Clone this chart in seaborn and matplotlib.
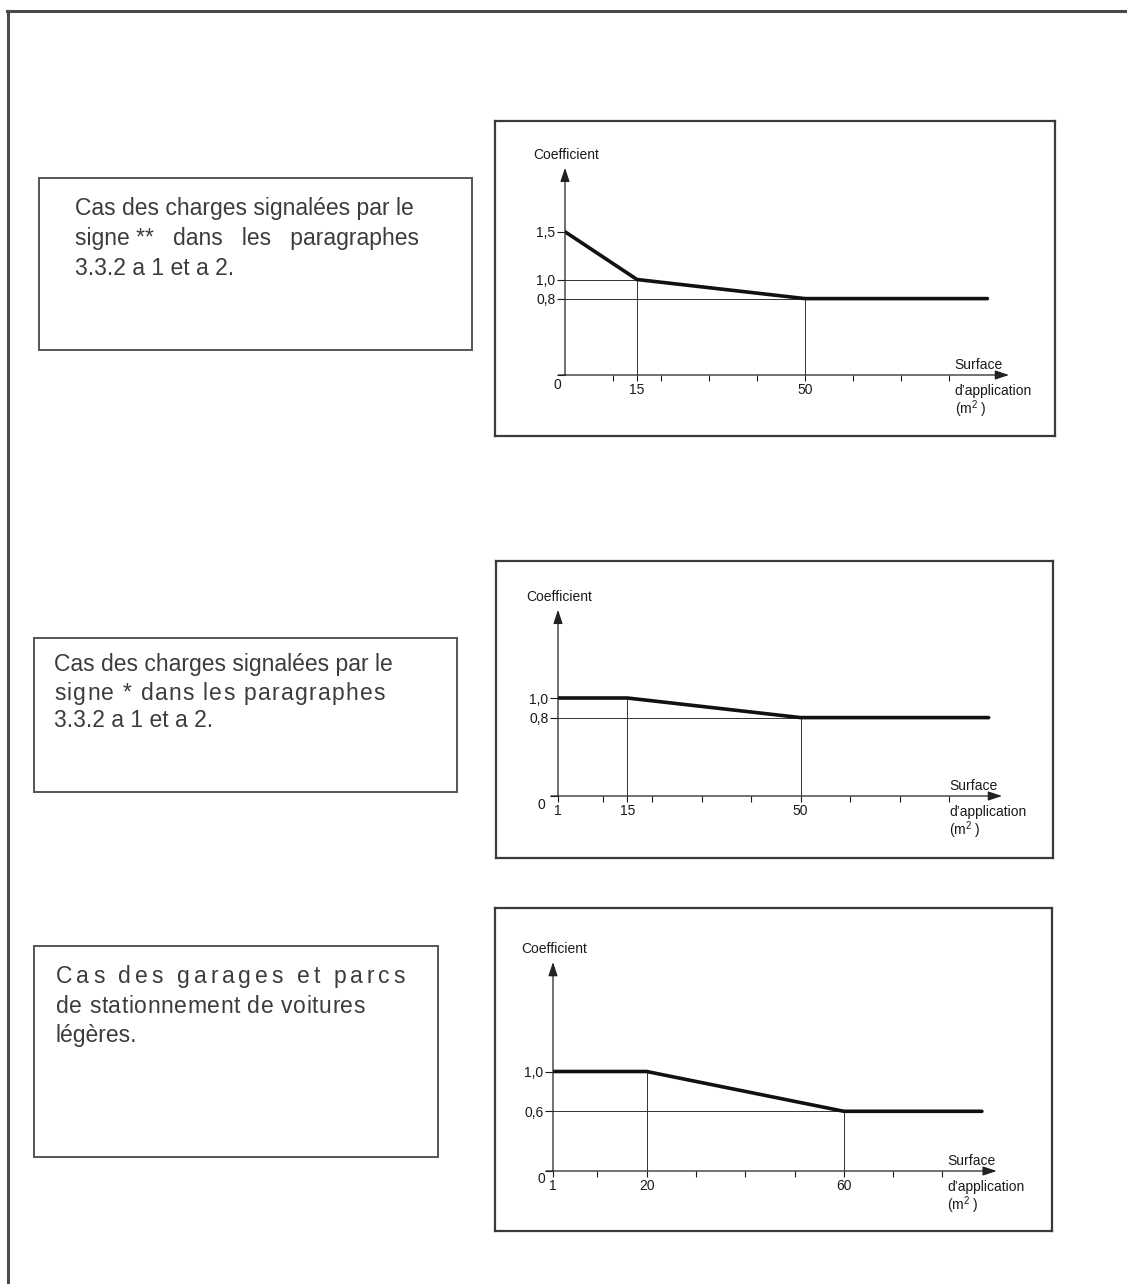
import numpy as np
import pandas as pd
import seaborn as sns
import matplotlib
matplotlib.use("Agg")
import matplotlib.pyplot as plt
from matplotlib import font_manager, ft2font
from matplotlib.lines import Line2D

# ---------------- DATA ----------------
# Chart 1 : charges signalées par **
chart1_surface = [0, 15, 50, 88]
chart1_coef = [1.5, 1.0, 0.8, 0.8]
chart1_xlabel_pos = [15, 50]
chart1_xlabels = ["15", "50"]
chart1_ylabel_pos = [1.5, 1.0, 0.8]
chart1_ylabels = ["1,5", "1,0", "0,8"]

# Chart 2 : charges signalées par *
chart2_surface = [1, 15, 50, 88]
chart2_coef = [1.0, 1.0, 0.8, 0.8]
chart2_xlabel_pos = [1, 15, 50]
chart2_xlabels = ["1", "15", "50"]
chart2_ylabel_pos = [1.0, 0.8]
chart2_ylabels = ["1,0", "0,8"]

# Chart 3 : garages et parcs de stationnement
chart3_surface = [1, 20, 60, 88]
chart3_coef = [1.0, 1.0, 0.6, 0.6]
chart3_xlabel_pos = [1, 20, 60]
chart3_xlabels = ["1", "20", "60"]
chart3_ylabel_pos = [1.0, 0.6]
chart3_ylabels = ["1,0", "0,6"]

minor_xticks = [10, 20, 30, 40, 50, 60, 70, 80]
origin_label = "0"
y_axis_title = "Coefficient"
x_axis_title = "Surface"
x_axis_title2 = "d\u2019application\n(m$^{2}$ )"

box1_lines = ["Cas des charges signalées par le",
              "signe **   dans   les   paragraphes",
              "3.3.2 a 1 et a 2."]
box2_lines = ["Cas des charges signalées par le",
              "signe * dans les paragraphes",
              "3.3.2 a 1 et a 2."]
box3_lines = ["Cas des garages et parcs",
              "de stationnement de voitures",
              "légères."]

# ---------------- LAYOUT (pixels) ----------------
W, H = 1127, 1284
sns.set_theme(style="white")
plt.rcParams["font.family"] = ["Liberation Sans", "DejaVu Sans"]
plt.rcParams["mathtext.fontset"] = "custom"
plt.rcParams["mathtext.rm"] = "Liberation Sans"

fig = plt.figure(figsize=(W / 100, H / 100), dpi=100)
fig.patch.set_facecolor("white")


def fx(x):
    return x / W


def fy(y):
    return 1 - y / H


def hline(x0, x1, y, lw, color):
    fig.add_artist(Line2D([fx(x0), fx(x1)], [fy(y), fy(y)], lw=lw, color=color,
                          transform=fig.transFigure, solid_capstyle="projecting"))


def vline(x, y0, y1, lw, color):
    fig.add_artist(Line2D([fx(x), fx(x)], [fy(y0), fy(y1)], lw=lw, color=color,
                          transform=fig.transFigure, solid_capstyle="projecting"))


def box(x0, y0, x1, y1, lw, color):
    hline(x0, x1, y0, lw, color)
    hline(x0, x1, y1, lw, color)
    vline(x0, y0, y1, lw, color)
    vline(x1, y0, y1, lw, color)


# page frame (left + top only)
hline(7, W + 5, 11, 2.2, "#4a4a4a")
vline(7.5, 11, H + 5, 2.2, "#4a4a4a")

# chart frames
box(495, 121, 1055, 436, 1.6, "#3a3a3a")
box(496, 561, 1053, 858, 1.6, "#3a3a3a")
box(495, 908, 1052, 1231, 1.6, "#3a3a3a")

# text frames
box(39, 178, 472, 350, 1.4, "#555555")
box(34, 638, 457, 792, 1.4, "#555555")
box(34, 946, 438, 1157, 1.4, "#555555")

# ---------- text boxes ----------
TXT_SIZE = 16.5
TXT_COLOR = "#3c3c3c"
font_path = font_manager.findfont(font_manager.FontProperties(family="Liberation Sans"))


def advances(s, size):
    try:
        f = ft2font.FT2Font(font_path)
        f.set_size(size, 100)
        out = []
        for c in s:
            g = f.load_char(ord(c))
            out.append(g.linearHoriAdvance / 65536.0)
        return out
    except Exception:
        return [size * 100 / 72 * 0.55 for _ in s]


def spaced_text(x, y, s, target_w):
    adv = advances(s, TXT_SIZE)
    extra = (target_w - sum(adv[:-1]) - adv[-1]) / max(len(s) - 1, 1)
    cx = x
    for c, a in zip(s, adv):
        if c != " ":
            fig.text(fx(cx), fy(y), c, fontsize=TXT_SIZE, color=TXT_COLOR,
                     ha="left", va="baseline")
        cx += a + extra


def plain_text(x, y, s):
    fig.text(fx(x), fy(y), s, fontsize=TXT_SIZE, color=TXT_COLOR,
             ha="left", va="baseline")


# box 1
plain_text(75, 215, box1_lines[0])
plain_text(75, 245, box1_lines[1])
plain_text(75, 275, box1_lines[2])
# box 2
plain_text(54, 671, box2_lines[0])
spaced_text(54, 700, box2_lines[1], 331)
plain_text(54, 727, box2_lines[2])
# box 3
spaced_text(56, 983, box3_lines[0], 349)
spaced_text(56, 1013, box3_lines[1], 309)
plain_text(56, 1042, box3_lines[2])

# ---------- charts ----------
CH_SIZE = 10
INK = "#1a1a1a"


def chart(surface, coef, xlabel_pos, xlabels, ylabel_pos, ylabels,
          ox, oy, xo, sx, sy, xmax, ymax, surf_x, zero_off):
    width = (xmax - xo) * sx
    height = ymax * sy
    ax = fig.add_axes([fx(ox), fy(oy), width / W, height / H])
    ax.set_facecolor("none")
    ax.set_xlim(xo, xmax)
    ax.set_ylim(0, ymax)
    for sp in ax.spines.values():
        sp.set_visible(False)

    # thin construction lines at the break points
    for xb, yb in zip(surface[1:-1], coef[1:-1]):
        ax.plot([xo, xb], [yb, yb], color="#333333", lw=0.7, zorder=2)
        ax.plot([xb, xb], [0, yb], color="#333333", lw=0.7, zorder=2)

    df = pd.DataFrame({"surface": surface, "coef": coef})
    sns.lineplot(data=df, x="surface", y="coef", ax=ax, color="#111111",
                 linewidth=2.6, zorder=3)
    ax.set_xlabel("")
    ax.set_ylabel("")

    arrow = dict(arrowstyle="-|>,head_length=0.6,head_width=0.2", color="#222222",
                 lw=0.9, mutation_scale=14, shrinkA=0, shrinkB=0)
    ax.annotate("", xy=(xmax, 0), xytext=(xo - 1.4, 0), arrowprops=arrow,
                annotation_clip=False)
    ax.annotate("", xy=(xo, ymax), xytext=(xo, 0), arrowprops=arrow,
                annotation_clip=False)

    xt = sorted(set(minor_xticks) | set(xlabel_pos))
    lab = {p: l for p, l in zip(xlabel_pos, xlabels)}
    ax.set_xticks(xt)
    ax.set_xticklabels([lab.get(t, "") for t in xt])
    yt = [0] + list(ylabel_pos)
    ax.set_yticks(yt)
    ax.set_yticklabels([""] + list(ylabels))
    ax.tick_params(axis="x", bottom=True, direction="out", length=4, width=0.8,
                   pad=1.8, labelsize=CH_SIZE, colors=INK)
    ax.tick_params(axis="y", left=True, direction="out", length=6, width=0.8,
                   pad=1.0, labelsize=CH_SIZE, colors=INK)

    ax.annotate(origin_label, xy=(xo, 0), xytext=zero_off, textcoords="offset pixels",
                ha="center", va="center", fontsize=CH_SIZE, color=INK,
                annotation_clip=False)
    ax.annotate(y_axis_title, xy=(xo, ymax), xytext=(1, 6), textcoords="offset pixels",
                ha="center", va="bottom", fontsize=CH_SIZE, color=INK,
                annotation_clip=False)
    ax.annotate(x_axis_title, xy=(surf_x, 0), xytext=(0, 10), textcoords="offset pixels",
                ha="left", va="center", fontsize=CH_SIZE, color=INK,
                annotation_clip=False)
    ax.annotate(x_axis_title2, xy=(surf_x, 0), xytext=(0, -9), textcoords="offset pixels",
                ha="left", va="top", fontsize=CH_SIZE, color=INK,
                linespacing=1.05, annotation_clip=False)
    return ax


chart(chart1_surface, chart1_coef, chart1_xlabel_pos, chart1_xlabels,
      chart1_ylabel_pos, chart1_ylabels,
      ox=565, oy=375, xo=0, sx=4.8, sy=95.5, xmax=92.5, ymax=2.17,
      surf_x=81.2, zero_off=(-8, -10))
chart(chart2_surface, chart2_coef, chart2_xlabel_pos, chart2_xlabels,
      chart2_ylabel_pos, chart2_ylabels,
      ox=558, oy=796, xo=1, sx=4.95, sy=98, xmax=90.7, ymax=1.9,
      surf_x=80.0, zero_off=(-17, -9))
chart(chart3_surface, chart3_coef, chart3_xlabel_pos, chart3_xlabels,
      chart3_ylabel_pos, chart3_ylabels,
      ox=553, oy=1171, xo=1, sx=4.93, sy=99.5, xmax=91.0, ymax=2.1,
      surf_x=81.0, zero_off=(-12, -8))

fig.savefig("out.png", dpi=100, facecolor="white")
